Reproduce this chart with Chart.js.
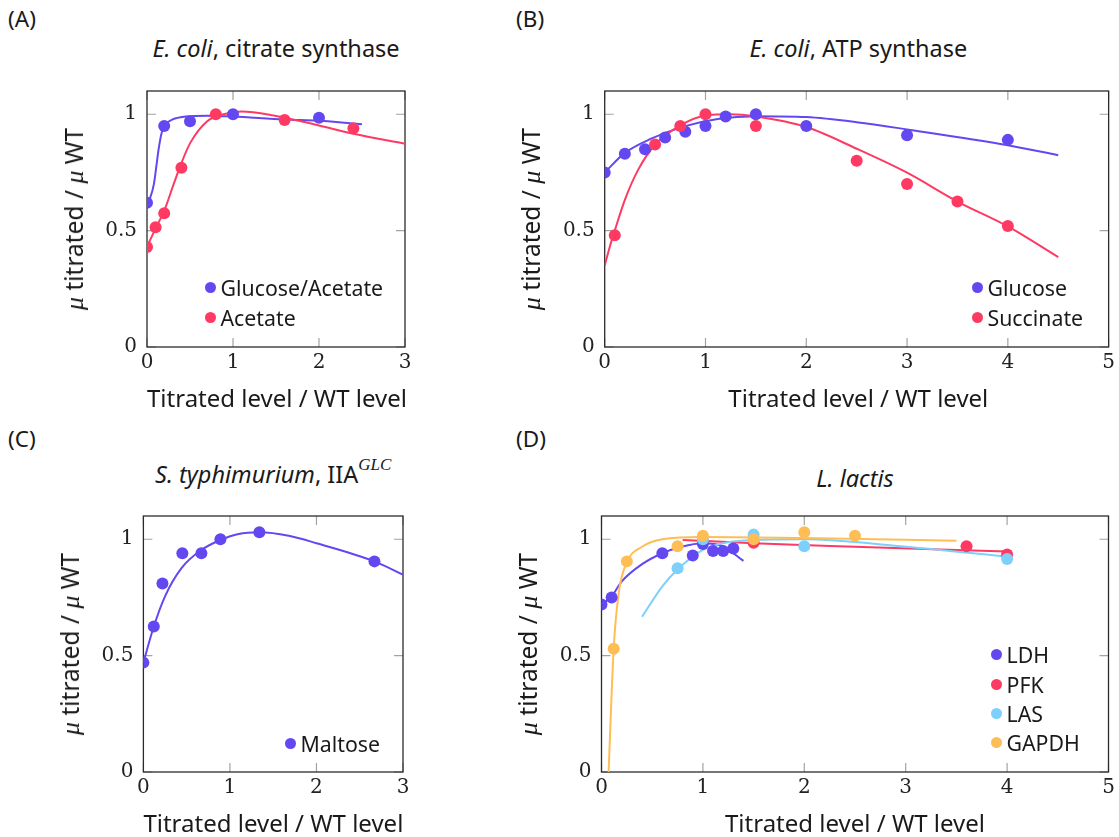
<!DOCTYPE html>
<html>
<head>
<meta charset="utf-8">
<script src="https://cdn.jsdelivr.net/npm/chart.js@4.4.1/dist/chart.umd.min.js"></script>
<style>
  html, body { margin: 0; padding: 0; background: #fff; width: 1119px; height: 837px; overflow: hidden; }
  body { position: relative; font-family: "Noto Sans", sans-serif; color: #1a1a1a; }
  .wrap { position: absolute; }
  .lbl, .title, .xt, .yt, .legend { position: absolute; white-space: nowrap; line-height: 1; }
  .lbl { font-size: 22.5px; }
  .title { font-size: 23.5px; text-align: center; }
  .xt { font-size: 24px; text-align: center; }
  .yt { font-size: 24.5px; transform: translate(-50%, -50%) rotate(-90deg); }
  .mu { font-family: "Liberation Serif", serif; font-style: italic; font-size: 26px; }
  .sup { font-family: "Liberation Serif", serif; font-style: italic; font-size: 17px; position: relative; top: -0.8em; }
  .legend { font-size: 21.3px; }
  .legend .row { display: flex; align-items: center; }
  .legend .dot { width: 11px; height: 11px; border-radius: 50%; display: inline-block; margin-right: 5px; }
</style>
</head>
<body>
<div class="lbl" style="left:8px; top:7.7px">(A)</div>
<div class="lbl" style="left:516px; top:7.7px">(B)</div>
<div class="lbl" style="left:8px; top:427.7px">(C)</div>
<div class="lbl" style="left:516px; top:427.7px">(D)</div>

<div class="wrap" id="wrapA"><canvas id="chartA"></canvas></div>
<div class="wrap" id="wrapB"><canvas id="chartB"></canvas></div>
<div class="wrap" id="wrapC"><canvas id="chartC"></canvas></div>
<div class="wrap" id="wrapD"><canvas id="chartD"></canvas></div>

<script>
// axis ticks
const xTicks3 = [0, 1, 2, 3];
const xTicks5 = [0, 1, 2, 3, 4, 5];
const yTicks = [0, 0.5, 1];

// (A) E. coli, citrate synthase
const aGlcX = [0, 0.2, 0.5, 1, 2];
const aGlcY = [0.62, 0.95, 0.97, 1.0, 0.985];
const aAceX = [0, 0.1, 0.2, 0.4, 0.8, 1.6, 2.4];
const aAceY = [0.43, 0.515, 0.575, 0.77, 1.0, 0.975, 0.94];
const aGlcFitX = [0, 0.04, 0.08, 0.11, 0.135, 0.17, 0.22, 0.3, 0.45, 0.7, 1.0, 1.6, 2.0, 2.5];
const aGlcFitY = [0.62, 0.645, 0.70, 0.78, 0.85, 0.92, 0.958, 0.978, 0.99, 0.994, 0.99, 0.977, 0.972, 0.957];
const aAceFitX = [0, 0.1, 0.2, 0.31, 0.4, 0.5, 0.7, 0.89, 1.1, 1.47, 2.0, 2.4, 3.0];
const aAceFitY = [0.43, 0.51, 0.585, 0.70, 0.79, 0.875, 0.97, 1.0, 1.012, 0.995, 0.952, 0.916, 0.873];

// (B) E. coli, ATP synthase
const bGlcX = [0, 0.2, 0.4, 0.6, 0.8, 1.0, 1.2, 1.5, 2, 3, 4];
const bGlcY = [0.75, 0.83, 0.85, 0.90, 0.925, 0.95, 0.99, 1.0, 0.95, 0.91, 0.89];
const bSucX = [0.1, 0.5, 0.75, 1.0, 1.5, 2.5, 3, 3.5, 4];
const bSucY = [0.48, 0.87, 0.95, 1.0, 0.95, 0.80, 0.70, 0.625, 0.52];
const bGlcFitX = [0, 0.2, 0.46, 0.79, 1.12, 1.5, 2.0, 2.5, 3.0, 4.0, 4.5];
const bGlcFitY = [0.75, 0.834, 0.895, 0.948, 0.98, 0.992, 0.988, 0.966, 0.935, 0.867, 0.824];
const bSucFitX = [0, 0.05, 0.1, 0.2, 0.33, 0.5, 0.75, 1.0, 1.25, 1.5, 2.0, 2.5, 3.0, 3.5, 4.0, 4.5];
const bSucFitY = [0.35, 0.43, 0.50, 0.632, 0.76, 0.869, 0.952, 0.995, 1.0, 0.99, 0.945, 0.852, 0.749, 0.625, 0.518, 0.386];

// (C) S. typhimurium, IIA GLC
const cMalX = [0, 0.12, 0.22, 0.45, 0.67, 0.89, 1.34, 2.67];
const cMalY = [0.47, 0.625, 0.81, 0.94, 0.94, 1.0, 1.03, 0.905];
const cMalFitX = [0, 0.12, 0.25, 0.44, 0.67, 0.89, 1.1, 1.34, 1.68, 2.0, 2.67, 3.0];
const cMalFitY = [0.47, 0.625, 0.755, 0.876, 0.954, 0.997, 1.023, 1.03, 1.015, 0.983, 0.905, 0.848];

// (D) L. lactis
const dLdhX = [0, 0.1, 0.6, 0.9, 1.0, 1.1, 1.2, 1.3];
const dLdhY = [0.72, 0.75, 0.94, 0.93, 0.98, 0.95, 0.95, 0.96];
const dPfkX = [1.5, 3.6, 4.0];
const dPfkY = [0.985, 0.97, 0.935];
const dLasX = [0.75, 1.0, 1.5, 2.0, 4.0];
const dLasY = [0.875, 1.0, 1.02, 0.97, 0.915];
const dGapX = [0.12, 0.25, 0.75, 1.0, 1.5, 2.0, 2.5];
const dGapY = [0.53, 0.905, 0.97, 1.015, 1.0, 1.03, 1.015];
const dLdhFitX = [0, 0.1, 0.2, 0.4, 0.6, 0.79, 1.0, 1.19, 1.4];
const dLdhFitY = [0.72, 0.755, 0.819, 0.893, 0.94, 0.968, 0.983, 0.971, 0.907];
const dPfkFitX = [0.8, 1.5, 2.5, 4.0];
const dPfkFitY = [0.997, 0.983, 0.968, 0.947];
const dLasFitX = [0.4, 0.6, 0.75, 1.0, 1.25, 1.5, 2.0, 3.0, 4.0];
const dLasFitY = [0.667, 0.798, 0.87, 0.954, 0.987, 0.997, 1.0, 0.968, 0.925];
const dGapFitX = [0.07, 0.12, 0.17, 0.245, 0.4, 0.6, 1.0, 2.0, 3.5];
const dGapFitY = [0.0, 0.53, 0.77, 0.897, 0.968, 1.0, 1.01, 1.005, 0.994];

const BLUE = "#6348F2", RED = "#FF3A62", CYAN = "#7DD0FB", ORANGE = "#FFBE55";

// plot areas in page pixels
const AREAS = {
    A: { l: 147, r: 405, t: 89, b: 347 },
    B: { l: 604.7, r: 1112, t: 89, b: 347 },
    C: { l: 143.4, r: 403, t: 514, b: 772 },
    D: { l: 601.5, r: 1108.5, t: 514, b: 772 },
};
const TITLE_TOP = { A: 37.1, B: 37.1, C: 463.1, D: 467.1 };

const zip = (xs, ys) => xs.map((x, i) => ({ x: x, y: ys[i] }));

// box + inward ticks on all four sides, like pgfplots
const frameTicks = {
    id: "frameTicks",
    beforeDatasetsDraw(chart) {
        const { ctx, chartArea: a, scales: { x, y } } = chart;
        const len = 9;
        ctx.save();
        ctx.strokeStyle = "#a3a3a3";
        ctx.lineWidth = 1.2;
        ctx.beginPath();
        x.ticks.forEach(t => {
            const px = x.getPixelForValue(t.value);
            ctx.moveTo(px, a.bottom); ctx.lineTo(px, a.bottom - len);
            ctx.moveTo(px, a.top); ctx.lineTo(px, a.top + len);
        });
        y.ticks.forEach(t => {
            const py = y.getPixelForValue(t.value);
            ctx.moveTo(a.left, py); ctx.lineTo(a.left + len, py);
            ctx.moveTo(a.right, py); ctx.lineTo(a.right - len, py);
        });
        ctx.stroke();
        ctx.strokeStyle = "#2b2b2b";
        ctx.lineWidth = 1.3;
        ctx.strokeRect(a.left, a.top, a.right - a.left, a.bottom - a.top);
        ctx.restore();
    },
};

function addText(cls, html, style) {
    const el = document.createElement("div");
    el.className = cls;
    el.innerHTML = html;
    Object.assign(el.style, style);
    document.body.appendChild(el);
    return el;
}

function makePanel(key, title, xTicks, series, legendPos) {
    const a = AREAS[key];
    const left = Math.floor(a.l) - 70, top = a.t - 20;
    const right = Math.min(1119, Math.ceil(a.r) + 12);
    const width = right - left, height = a.b + 40 - top;
    const Y_W = 50, X_H = 30;
    const wrap = document.getElementById("wrap" + key);
    Object.assign(wrap.style, { left: left + "px", top: top + "px", width: width + "px", height: height + "px" });

    const n = series.length;
    const datasets = [];
    series.forEach((s, i) => {
        datasets.push({
            label: s.label + " fit",
            data: zip(s.fitX, s.fitY),
            showLine: true,
            borderColor: s.color,
            borderWidth: 2,
            pointRadius: 0,
            cubicInterpolationMode: "monotone",
            fill: false,
            order: 10 + n - i,
        });
        datasets.push({
            label: s.label,
            data: zip(s.x, s.y),
            backgroundColor: s.color,
            borderWidth: 0,
            pointRadius: 6,
            pointHoverRadius: 6,
            order: n - i,
        });
    });

    const tickFont = { family: "'DejaVu Serif', serif", size: 20 };
    new Chart(document.getElementById("chart" + key), {
        type: "scatter",
        data: { datasets: datasets },
        options: {
            responsive: true,
            maintainAspectRatio: false,
            animation: false,
            events: [],
            layout: {
                padding: {
                    left: a.l - left - Y_W,
                    right: left + width - a.r,
                    top: a.t - top,
                    bottom: top + height - a.b - X_H,
                },
            },
            plugins: { legend: { display: false }, tooltip: { enabled: false } },
            scales: {
                x: {
                    type: "linear",
                    min: 0,
                    max: xTicks[xTicks.length - 1],
                    afterBuildTicks: sc => { sc.ticks = xTicks.map(v => ({ value: v })); },
                    afterFit: sc => { sc.height = X_H; },
                    grid: { display: false, drawTicks: false },
                    border: { display: false },
                    ticks: { font: tickFont, color: "#222", padding: 4, autoSkip: false, maxRotation: 0, callback: v => String(v) },
                },
                y: {
                    min: 0,
                    max: 1.1,
                    afterBuildTicks: sc => { sc.ticks = yTicks.map(v => ({ value: v })); },
                    afterFit: sc => { sc.width = Y_W; },
                    grid: { display: false, drawTicks: false },
                    border: { display: false },
                    ticks: { font: tickFont, color: "#222", padding: 10, autoSkip: false, callback: v => String(v) },
                },
            },
        },
        plugins: [frameTicks],
    });

    // title, axis titles
    addText("title", title, { left: a.l + "px", width: (a.r - a.l) + "px", top: TITLE_TOP[key] + "px" });
    addText("xt", "Titrated level / WT level", { left: a.l + "px", width: (a.r - a.l) + "px", top: (a.b + 38.5) + "px" });
    addText("yt", '<span class="mu">μ</span> titrated / <span class="mu">μ</span> WT', { left: (a.l - 72.5) + "px", top: ((a.t + a.b) / 2 + 1) + "px" });

    // legend inside the plot, lower right
    const rows = series.map(s => '<div class="row" style="height:' + legendPos.rowH + 'px"><span class="dot" style="background:' + s.color + '"></span>' + s.label + "</div>").join("");
    addText("legend", rows, { left: (legendPos.x - 5.5) + "px", top: (legendPos.y - legendPos.rowH / 2) + "px" });
}

makePanel("A", "<i>E. coli</i>, citrate synthase", xTicks3, [
    { label: "Glucose/Acetate", color: BLUE, x: aGlcX, y: aGlcY, fitX: aGlcFitX, fitY: aGlcFitY },
    { label: "Acetate", color: RED, x: aAceX, y: aAceY, fitX: aAceFitX, fitY: aAceFitY },
], { x: 210, y: 287.3, rowH: 30.5 });

makePanel("B", "<i>E. coli</i>, ATP synthase", xTicks5, [
    { label: "Glucose", color: BLUE, x: bGlcX, y: bGlcY, fitX: bGlcFitX, fitY: bGlcFitY },
    { label: "Succinate", color: RED, x: bSucX, y: bSucY, fitX: bSucFitX, fitY: bSucFitY },
], { x: 977, y: 287.3, rowH: 30.5 });

makePanel("C", '<i>S. typhimurium</i>, IIA<span class="sup">GLC</span>', xTicks3, [
    { label: "Maltose", color: BLUE, x: cMalX, y: cMalY, fitX: cMalFitX, fitY: cMalFitY },
], { x: 290, y: 743.5, rowH: 30 });

makePanel("D", "<i>L. lactis</i>", xTicks5, [
    { label: "LDH", color: BLUE, x: dLdhX, y: dLdhY, fitX: dLdhFitX, fitY: dLdhFitY },
    { label: "PFK", color: RED, x: dPfkX, y: dPfkY, fitX: dPfkFitX, fitY: dPfkFitY },
    { label: "LAS", color: CYAN, x: dLasX, y: dLasY, fitX: dLasFitX, fitY: dLasFitY },
    { label: "GAPDH", color: ORANGE, x: dGapX, y: dGapY, fitX: dGapFitX, fitY: dGapFitY },
], { x: 996, y: 655, rowH: 29.3 });
</script>
</body>
</html>
